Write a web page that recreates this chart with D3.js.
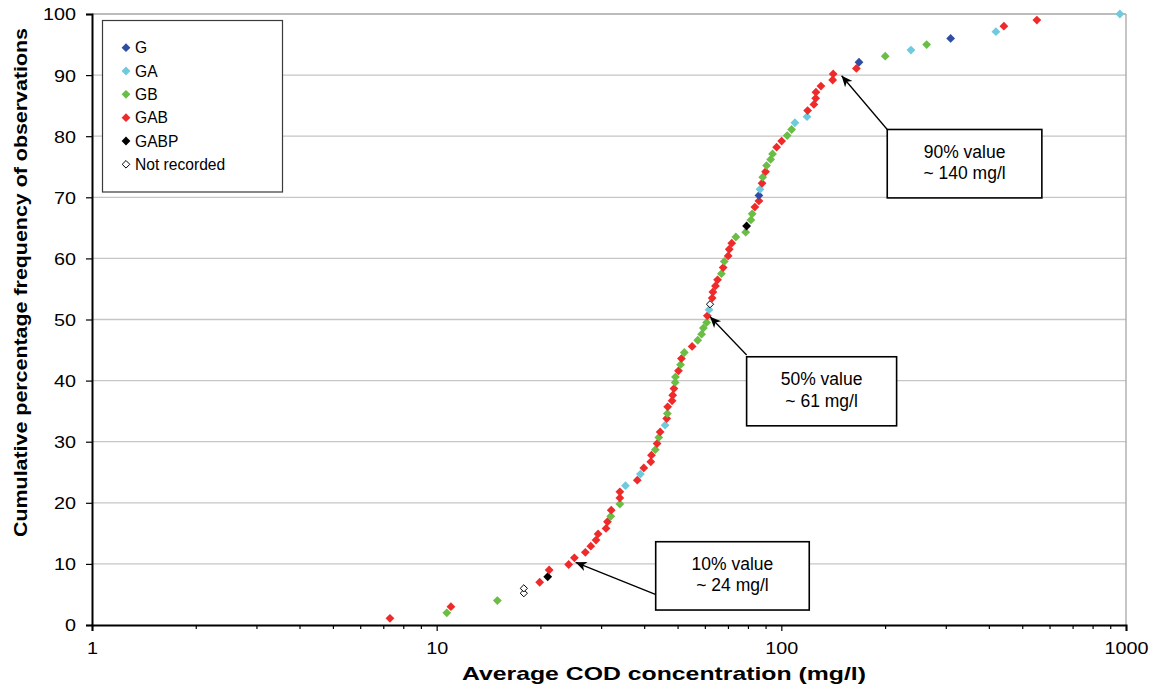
<!DOCTYPE html>
<html>
<head>
<meta charset="utf-8">
<script src="https://cdn.jsdelivr.net/npm/d3@7"></script>
<style>
  html, body { margin: 0; padding: 0; background: #ffffff; }
  svg { display: block; font-family: "Liberation Sans", Arial, sans-serif; }
</style>
</head>
<body>
<svg id="chart" width="1159" height="690"></svg>
<script>
// ---- Data ----
const conc = [7.32, 10.7, 11.0, 15.0, 17.9, 17.9, 19.9, 21.0, 21.2, 24.15,
  25.1, 27.0, 28.0, 29.0, 29.4, 31.0, 31.3, 32.0, 32.1, 34.0,
  34.0, 34.0, 35.3, 38.2, 39.0, 39.9, 41.8, 42.0, 43.1, 43.6,
  44.1, 44.5, 46.0, 46.5, 46.7, 46.8, 48.2, 48.4, 48.8, 49.2,
  49.3, 50.3, 51.0, 51.3, 52.3, 55.1, 57.2, 58.7, 59.4, 60.7,
  61.0, 61.7, 62.1, 63.0, 63.3, 64.4, 65.3, 67.0, 67.8, 68.3,
  70.1, 70.6, 71.8, 73.8, 78.8, 79.3, 81.6, 82.3, 83.8, 86.1,
  86.1, 86.7, 87.9, 88.3, 90.0, 90.6, 93.1, 94.3, 96.9, 100.2,
  104.0, 107.1, 109.5, 118.7, 119.2, 124.3, 125.8, 126.0, 130.3, 140.9,
  141.4, 165.1, 168.0, 200.2, 237.7, 264.0, 309.9, 419.4, 442.3, 551.3,
  960.0];
const pct = [1.1, 2.0, 3.0, 4.0, 5.2, 6.0, 7.0, 7.9, 9.0, 9.9,
  11.0, 11.9, 12.9, 13.9, 14.9, 15.8, 16.9, 17.8, 18.8, 19.8,
  20.8, 21.8, 22.8, 23.7, 24.7, 25.7, 26.7, 27.8, 28.7, 29.7,
  30.7, 31.6, 32.7, 33.8, 34.6, 35.7, 36.7, 37.6, 38.7, 39.7,
  40.6, 41.6, 42.6, 43.6, 44.6, 45.6, 46.6, 47.6, 48.6, 49.5,
  50.6, 51.6, 52.5, 53.5, 54.5, 55.5, 56.5, 57.5, 58.5, 59.5,
  60.4, 61.5, 62.5, 63.5, 64.3, 65.3, 66.3, 67.3, 68.4, 69.4,
  70.3, 71.3, 72.3, 73.3, 74.2, 75.2, 76.2, 77.1, 78.2, 79.2,
  80.1, 81.1, 82.2, 83.2, 84.2, 85.2, 86.2, 87.2, 88.2, 89.2,
  90.2, 91.1, 92.1, 93.1, 94.1, 95.0, 96.0, 97.1, 98.0, 99.0,
  100.0];
const group = ["GAB","GB","GAB","GB","Not recorded","Not recorded","GAB","GABP","GAB","GAB",
  "GAB","GAB","GAB","GAB","GAB","GAB","GAB","GB","GAB","GB",
  "GAB","GAB","GA","GAB","GA","GAB","GAB","GAB","GB","GAB",
  "GB","GAB","GA","GAB","GB","GAB","GAB","GAB","GAB","GB",
  "GB","GAB","GB","GAB","GB","GAB","GB","GB","GB","GB",
  "GAB","GA","Not recorded","GAB","GAB","GAB","GAB","GB","GAB","GB",
  "GAB","GAB","GAB","GB","GB","GABP","GB","GB","GAB","GAB",
  "G","GA","GAB","GB","GAB","GB","GB","GB","GAB","GAB",
  "GB","GB","GA","GA","GAB","GAB","GAB","GAB","GAB","GAB",
  "GAB","GAB","G","GB","GA","GB","G","GA","GAB","GAB",
  "GA"];

const groups = ["G", "GA", "GB", "GAB", "GABP", "Not recorded"];
const groupFill = ["#2f4ea3", "#6ecadc", "#6abd45", "#ee2a2a", "#000000", "#ffffff"];
const groupStroke = ["none", "none", "none", "none", "none", "#000000"];

const xTickValues = [1, 10, 100, 1000];
const xTickLabels = ["1", "10", "100", "1000"];
const xMinorValues = [2,3,4,5,6,7,8,9,20,30,40,50,60,70,80,90,200,300,400,500,600,700,800,900];
const yTickValues = [0, 10, 20, 30, 40, 50, 60, 70, 80, 90, 100];

const xTitle = "Average COD concentration (mg/l)";
const yTitle = "Cumulative percentage frequency of observations";

// annotations (in data coordinates)
const annLine1 = ["10% value", "50% value", "90% value"];
const annLine2 = ["~ 24 mg/l", "~ 61 mg/l", "~ 140 mg/l"];
const annTipX = [25.3, 62.1, 149.6];
const annTipY = [10.26, 50.46, 89.9];
const annFromX = [43.1, 79.3, 202.9];
const annFromY = [5.0, 44.2, 81.1];
const annBoxX0 = [43.2, 79.3, 202.9];
const annBoxX1 = [120.5, 216, 570];
const annBoxY0 = [13.63, 43.9, 81.1];
const annBoxY1 = [2.45, 32.6, 69.9];

// ---- Drawing ----
const svg = d3.select("#chart");
const x = d3.scaleLog().domain([1, 1000]).range([92, 1126]);
const y = d3.scaleLinear().domain([0, 100]).range([625, 14]);

// gridlines
svg.append("g").selectAll("line").data(yTickValues.filter(v => v > 0)).join("line")
  .attr("x1", x(1)).attr("x2", x(1000))
  .attr("y1", d => y(d)).attr("y2", d => y(d))
  .attr("stroke", d => d === 100 ? "#a6a6a6" : "#c6c6c6")
  .attr("stroke-width", 1.3);
// right border
svg.append("line")
  .attr("x1", x(1000)).attr("x2", x(1000))
  .attr("y1", y(100)).attr("y2", y(0))
  .attr("stroke", "#a6a6a6").attr("stroke-width", 1.3);

// points
const diamond = (s) => `M0,${-s}L${s},0L0,${s}L${-s},0Z`;
const pts = conc.map((c, i) => ({c, p: pct[i], g: group[i]}));
svg.append("g").selectAll("path").data(pts).join("path")
  .attr("transform", d => `translate(${x(d.c)},${y(d.p)})`)
  .attr("d", d => d.g === "Not recorded" ? diamond(3.6) : diamond(4.4))
  .attr("fill", d => groupFill[groups.indexOf(d.g)])
  .attr("stroke", d => groupStroke[groups.indexOf(d.g)])
  .attr("stroke-width", 1);

// axes
const xAxis = svg.append("g").attr("transform", `translate(0,${y(0)})`)
  .call(d3.axisBottom(x).tickValues(xTickValues).tickSize(6).tickPadding(11)
    .tickFormat((d, i) => xTickLabels[i]));
const xMinor = svg.append("g").attr("transform", `translate(0,${y(0)})`)
  .call(d3.axisBottom(x).tickValues(xMinorValues).tickSize(4).tickFormat(""));
xMinor.select(".domain").remove();
const yAxis = svg.append("g").attr("transform", `translate(${x(1)},0)`)
  .call(d3.axisLeft(y).tickValues(yTickValues).tickSize(6).tickPadding(10));

[xAxis, xMinor, yAxis].forEach(g => {
  g.selectAll(".domain").attr("stroke", "#000").attr("stroke-width", 2);
  g.selectAll(".tick line").attr("stroke", "#000").attr("stroke-width", 1.2);
});
[xAxis, yAxis].forEach(g => {
  g.selectAll(".tick text")
    .attr("font-family", "'Liberation Sans', Arial, sans-serif")
    .attr("font-size", 16.5)
    .attr("fill", "#000")
    .each(function() {
      const t = d3.select(this);
      t.attr("textLength", t.text().length * 11).attr("lengthAdjust", "spacingAndGlyphs");
    });
});
yAxis.selectAll(".tick text").attr("dy", "0.36em");

// axis titles
svg.append("text")
  .attr("x", 664).attr("y", 680)
  .attr("text-anchor", "middle")
  .attr("font-weight", "bold").attr("font-size", 18.5)
  .attr("textLength", 404).attr("lengthAdjust", "spacingAndGlyphs")
  .text(xTitle);
svg.append("text")
  .attr("transform", "translate(27,282.5) rotate(-90)")
  .attr("text-anchor", "middle")
  .attr("font-weight", "bold").attr("font-size", 17.5)
  .attr("textLength", 509).attr("lengthAdjust", "spacingAndGlyphs")
  .text(yTitle);

// legend
const lg = svg.append("g");
lg.append("rect").attr("x", 102.5).attr("y", 20.5).attr("width", 180).attr("height", 171.5)
  .attr("fill", "#fff").attr("stroke", "#3a3a3a").attr("stroke-width", 1.2);
const legendY = d3.scalePoint().domain(groups).range([47.7, 164.3]);
groups.forEach((g, i) => {
  lg.append("path")
    .attr("transform", `translate(126,${legendY(g)})`)
    .attr("d", g === "Not recorded" ? diamond(3.8) : diamond(4.4))
    .attr("fill", groupFill[i]).attr("stroke", groupStroke[i]).attr("stroke-width", 1);
  lg.append("text").attr("x", 135).attr("y", legendY(g)).attr("dy", "0.36em")
    .attr("font-size", 15.6).attr("fill", "#000").text(g);
});

// annotations
const defs = svg.append("defs");
defs.append("marker").attr("id", "arrow")
  .attr("viewBox", "-12 -6 14 12").attr("refX", 0).attr("refY", 0)
  .attr("markerWidth", 14).attr("markerHeight", 12)
  .attr("markerUnits", "userSpaceOnUse").attr("orient", "auto")
  .append("path").attr("d", "M0,0L-11,-4.8L-8,0L-11,4.8Z").attr("fill", "#000");

const ann = svg.append("g");
annLine1.forEach((l1, i) => {
  ann.append("line")
    .attr("x1", x(annFromX[i])).attr("y1", y(annFromY[i]))
    .attr("x2", x(annTipX[i])).attr("y2", y(annTipY[i]))
    .attr("stroke", "#000").attr("stroke-width", 1.3)
    .attr("marker-end", "url(#arrow)");
  const bx0 = x(annBoxX0[i]), bx1 = x(annBoxX1[i]);
  const by0 = y(annBoxY0[i]), by1 = y(annBoxY1[i]);
  ann.append("rect").attr("x", bx0).attr("y", by0)
    .attr("width", bx1 - bx0).attr("height", by1 - by0)
    .attr("fill", "#fff").attr("stroke", "#000").attr("stroke-width", 1.6);
  const cx = (bx0 + bx1) / 2, cy = (by0 + by1) / 2;
  ann.append("text").attr("x", cx).attr("y", cy - 6).attr("text-anchor", "middle")
    .attr("font-size", 17.5).attr("fill", "#000").text(l1);
  ann.append("text").attr("x", cx).attr("y", cy + 15.5).attr("text-anchor", "middle")
    .attr("font-size", 17.5).attr("fill", "#000").text(annLine2[i]);
});
</script>
</body>
</html>
